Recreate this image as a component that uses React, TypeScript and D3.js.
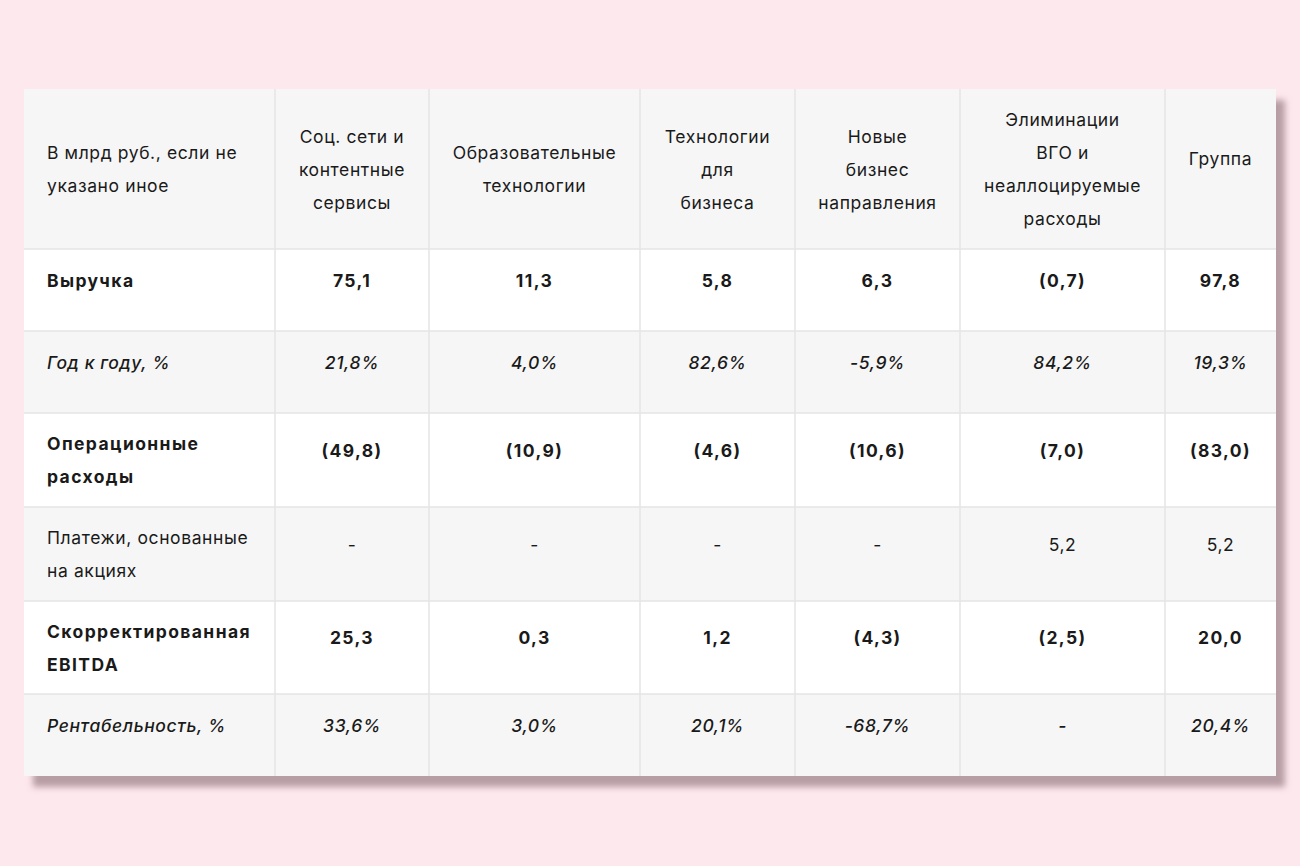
import React from "react";
import * as d3 from "d3";

// ---- data ----
const headerLines: string[][] = [
  ["В млрд руб., если не", "указано иное"],
  ["Соц. сети и", "контентные", "сервисы"],
  ["Образовательные", "технологии"],
  ["Технологии", "для", "бизнеса"],
  ["Новые", "бизнес", "направления"],
  ["Элиминации", "ВГО и", "неаллоцируемые", "расходы"],
  ["Группа"],
];

const rowLabels: string[][] = [
  ["Выручка"],
  ["Год к году, %"],
  ["Операционные", "расходы"],
  ["Платежи, основанные", "на акциях"],
  ["Скорректированная", "EBITDA"],
  ["Рентабельность, %"],
];

const rowKinds = ["bold", "italic", "bold", "normal", "bold", "italic"];

const revenue = ["75,1", "11,3", "5,8", "6,3", "(0,7)", "97,8"];
const yoy = ["21,8%", "4,0%", "82,6%", "-5,9%", "84,2%", "19,3%"];
const opex = ["(49,8)", "(10,9)", "(4,6)", "(10,6)", "(7,0)", "(83,0)"];
const sbc = ["-", "-", "-", "-", "5,2", "5,2"];
const ebitda = ["25,3", "0,3", "1,2", "(4,3)", "(2,5)", "20,0"];
const margin = ["33,6%", "3,0%", "20,1%", "-68,7%", "-", "20,4%"];

const rowValues = [revenue, yoy, opex, sbc, ebitda, margin];

// ---- layout ----
const W = 1300;
const H = 866;
const X0 = 24;
const Y0 = 89;
const colWidths = [251, 154, 211, 155, 165, 205, 111];
const rowHeights = [160, 82, 82, 94, 94, 93, 82];
const LINE = 33;
const FS = 17.5;
const FONT = "Inter, 'Noto Sans', 'DejaVu Sans', sans-serif";
const TEXT = "#1a1a1a";
const GREY = "#f6f6f6";
const BORDER = "#e4e4e4";

export default function App() {
  const colEdges = [X0, ...Array.from(d3.cumsum(colWidths), (v) => X0 + v)];
  const rowEdges = [Y0, ...Array.from(d3.cumsum(rowHeights), (v) => Y0 + v)];
  const colLeft = (i: number) => colEdges[i];
  const colCenter = (i: number) => (colEdges[i] + colEdges[i + 1]) / 2;
  const tableW = colEdges[colEdges.length - 1] - X0;
  const tableH = rowEdges[rowEdges.length - 1] - Y0;

  const styleFor = (kind: string) => ({
    fontWeight: kind === "bold" ? 700 : kind === "italic" ? 500 : 400,
    fontStyle: kind === "italic" ? "italic" : "normal",
    letterSpacing: kind === "bold" ? 1.4 : 0.6,
  });

  const headerMid = (rowEdges[0] + rowEdges[1]) / 2;

  return (
    <svg
      width={W}
      height={H}
      style={{ position: "absolute", left: 0, top: 0 }}
      fontFamily={FONT}
    >
      <defs>
        <filter id="sh" x="-5%" y="-5%" width="115%" height="120%">
          <feGaussianBlur in="SourceAlpha" stdDeviation="3" />
          <feOffset dx="9" dy="11" result="b" />
          <feFlood floodColor="#9c8088" floodOpacity="0.72" />
          <feComposite in2="b" operator="in" />
          <feMerge>
            <feMergeNode />
            <feMergeNode in="SourceGraphic" />
          </feMerge>
        </filter>
      </defs>
      <rect width={W} height={H} fill="#fde8ed" />
      <rect x={X0} y={Y0} width={tableW} height={tableH} fill="#fff" filter="url(#sh)" />
      {rowHeights.map((h, r) => (
        <rect
          key={"bg" + r}
          x={X0}
          y={rowEdges[r]}
          width={tableW}
          height={h}
          fill={r % 2 === 0 ? GREY : "#ffffff"}
        />
      ))}
      {rowEdges.slice(1, -1).map((y, i) => (
        <line key={"h" + i} x1={X0} x2={X0 + tableW} y1={y} y2={y} stroke={BORDER} strokeWidth={1.5} />
      ))}
      {colEdges.slice(1, -1).map((cx, i) => (
        <line key={"v" + i} x1={cx} x2={cx} y1={Y0} y2={Y0 + tableH} stroke={BORDER} strokeWidth={1.5} />
      ))}
      {headerLines.map((lines, c) => {
        const n = lines.length;
        const start = n === 1 ? headerMid - 11 : headerMid - ((n - 1) * LINE) / 2;
        return lines.map((t, i) => (
          <text
            key={"hd" + c + "-" + i}
            x={c === 0 ? colLeft(0) + 23 : colCenter(c)}
            y={start + i * LINE}
            textAnchor={c === 0 ? "start" : "middle"}
            dominantBaseline="central"
            fontSize={FS}
            fill={TEXT}
            letterSpacing={0.6}
          >
            {t}
          </text>
        ));
      })}
      {rowLabels.map((lines, r) => {
        const top = rowEdges[r + 1];
        const h = rowHeights[r + 1];
        const st = styleFor(rowKinds[r]);
        const valY = top + h / 2 - 10;
        return (
          <g key={"row" + r}>
            {lines.map((t, i) => (
              <text
                key={"lb" + i}
                x={colLeft(0) + 23}
                y={(lines.length === 1 ? valY : top + 30.5) + i * LINE}
                dominantBaseline="central"
                fontSize={FS}
                fill={TEXT}
                {...st}
              >
                {t}
              </text>
            ))}
            {rowValues[r].map((v, c) => (
              <text
                key={"v" + c}
                x={colCenter(c + 1)}
                y={valY}
                textAnchor="middle"
                dominantBaseline="central"
                fontSize={FS}
                fill={TEXT}
                {...st}
              >
                {v}
              </text>
            ))}
          </g>
        );
      })}
    </svg>
  );
}
